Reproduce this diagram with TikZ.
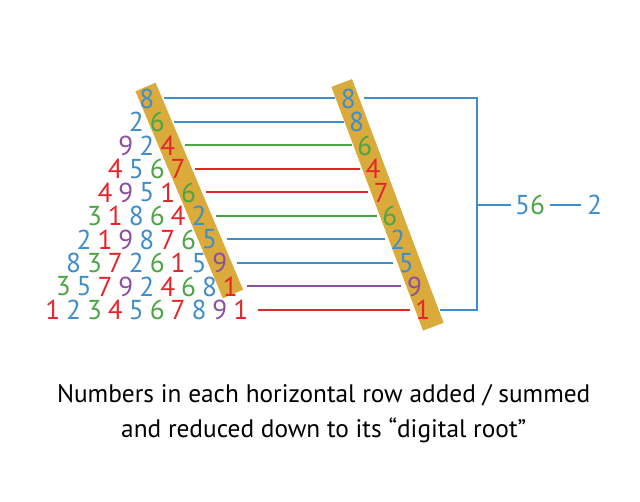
\documentclass[tikz,border=0pt]{standalone}
\usepackage{fontspec}
\setmainfont{PT Sans}
\definecolor{nblue}{RGB}{64,141,204}
\definecolor{nred}{RGB}{228,38,43}
\definecolor{ngreen}{RGB}{76,166,70}
\definecolor{npurple}{RGB}{140,80,160}
\definecolor{ngold}{RGB}{218,170,58}
\begin{document}
\begin{tikzpicture}[x=0.75pt,y=-0.75pt]
  \tikzstyle{digit}=[inner sep=0pt,font=\fontsize{20.5}{24}\selectfont]
  \tikzstyle{rd}=[digit,text=nred]
  \tikzstyle{bl}=[digit,text=nblue]
  \tikzstyle{gr}=[digit,text=ngreen]
  \tikzstyle{pu}=[digit,text=npurple]
  \tikzstyle{band}=[fill=ngold]
  \tikzstyle{sumline}=[line width=1.5pt,shorten <=7pt,shorten >=4pt]
  \tikzstyle{caption}=[font=\fontsize{19}{23}\selectfont,anchor=base]
  \useasboundingbox (0,0) rectangle (640,502);
  % bands
  \fill[band] (135.4,91.3) -- (155.6,82.7) -- (243.1,289.7) -- (222.9,298.3) -- cycle;
  \fill[band] (331.4,86.9) -- (352.0,79.1) -- (443.6,322.8) -- (423.0,330.6) -- cycle;
  % triangle
  \node[bl] (T00) at (146.8,98.5) {8};
  \node[bl] (T10) at (136.3,122) {2};
  \node[gr] (T11) at (157.2,122) {6};
  \node[pu] (T20) at (125.9,145.5) {9};
  \node[bl] (T21) at (146.8,145.5) {2};
  \node[rd] (T22) at (167.7,145.5) {4};
  \node[rd] (T30) at (115.4,169) {4};
  \node[bl] (T31) at (136.3,169) {5};
  \node[gr] (T32) at (157.2,169) {6};
  \node[rd] (T33) at (178.1,169) {7};
  \node[rd] (T40) at (105.0,192.5) {4};
  \node[pu] (T41) at (125.9,192.5) {9};
  \node[bl] (T42) at (146.8,192.5) {5};
  \node[rd] (T43) at (167.7,192.5) {1};
  \node[gr] (T44) at (188.6,192.5) {6};
  \node[gr] (T50) at (94.5,216) {3};
  \node[rd] (T51) at (115.4,216) {1};
  \node[bl] (T52) at (136.3,216) {8};
  \node[gr] (T53) at (157.2,216) {6};
  \node[rd] (T54) at (178.1,216) {4};
  \node[bl] (T55) at (199.0,216) {2};
  \node[bl] (T60) at (84.1,239.5) {2};
  \node[rd] (T61) at (105.0,239.5) {1};
  \node[pu] (T62) at (125.9,239.5) {9};
  \node[bl] (T63) at (146.8,239.5) {8};
  \node[rd] (T64) at (167.7,239.5) {7};
  \node[gr] (T65) at (188.6,239.5) {6};
  \node[bl] (T66) at (209.5,239.5) {5};
  \node[bl] (T70) at (73.6,263) {8};
  \node[gr] (T71) at (94.5,263) {3};
  \node[rd] (T72) at (115.4,263) {7};
  \node[bl] (T73) at (136.3,263) {2};
  \node[gr] (T74) at (157.2,263) {6};
  \node[rd] (T75) at (178.1,263) {1};
  \node[bl] (T76) at (199.0,263) {5};
  \node[pu] (T77) at (219.9,263) {9};
  \node[gr] (T80) at (63.2,286.5) {3};
  \node[bl] (T81) at (84.1,286.5) {5};
  \node[rd] (T82) at (105.0,286.5) {7};
  \node[pu] (T83) at (125.9,286.5) {9};
  \node[bl] (T84) at (146.8,286.5) {2};
  \node[rd] (T85) at (167.7,286.5) {4};
  \node[gr] (T86) at (188.6,286.5) {6};
  \node[bl] (T87) at (209.5,286.5) {8};
  \node[rd] (T88) at (230.4,286.5) {1};
  \node[rd] (T90) at (52.7,310) {1};
  \node[bl] (T91) at (73.6,310) {2};
  \node[gr] (T92) at (94.5,310) {3};
  \node[rd] (T93) at (115.4,310) {4};
  \node[bl] (T94) at (136.3,310) {5};
  \node[gr] (T95) at (157.2,310) {6};
  \node[rd] (T96) at (178.1,310) {7};
  \node[bl] (T97) at (199.0,310) {8};
  \node[pu] (T98) at (219.9,310) {9};
  \node[rd] (T99) at (240.8,310) {1};
  % row roots
  \node[bl] (R0) at (348.3,98.5) {8};
  \node[bl] (R1) at (356.6,122) {8};
  \node[gr] (R2) at (364.8,145.5) {6};
  \node[rd] (R3) at (373.1,169) {4};
  \node[rd] (R4) at (381.4,192.5) {7};
  \node[gr] (R5) at (389.7,216) {6};
  \node[bl] (R6) at (397.9,239.5) {2};
  \node[bl] (R7) at (406.2,263) {5};
  \node[pu] (R8) at (414.5,286.5) {9};
  \node[rd] (R9) at (422.7,310) {1};
  \draw[sumline,nblue] (T00) -- (R0);
  \draw[sumline,nblue] (T11) -- (R1);
  \draw[sumline,ngreen] (T22) -- (R2);
  \draw[sumline,nred] (T33) -- (R3);
  \draw[sumline,nred] (T44) -- (R4);
  \draw[sumline,ngreen] (T55) -- (R5);
  \draw[sumline,nblue] (T66) -- (R6);
  \draw[sumline,nblue] (T77) -- (R7);
  \draw[sumline,npurple] (T88) -- (R8);
  \draw[sumline,nred] (T99) -- (R9);
  % bracket
  \coordinate (bracetop) at (476.7,98.5);
  \coordinate (bracebot) at (476.7,310);
  \coordinate (bracemid) at (476.7,205);
  \node[digit] (sum) at (530,205) {\color{nblue}5\color{ngreen}6};
  \node[bl] (root) at (594.5,205) {2};
  \draw[nblue,line width=1.5pt,shorten <=6pt,shorten >=7.5pt] (R0) -- (bracetop) -- (bracebot) -- (R9);
  \draw[nblue,line width=1.5pt,shorten >=3pt] (bracemid) -- (sum);
  \draw[nblue,line width=1.5pt,shorten <=3.5pt,shorten >=4pt] (sum) -- (root);
  % caption
  \node[caption] (caption1) at (323.7,403) {Numbers in each horizontal row added / summed};
  \node[caption] (caption2) at (323.7,438) {and reduced down to its “digital root”};
\end{tikzpicture}
\end{document}
